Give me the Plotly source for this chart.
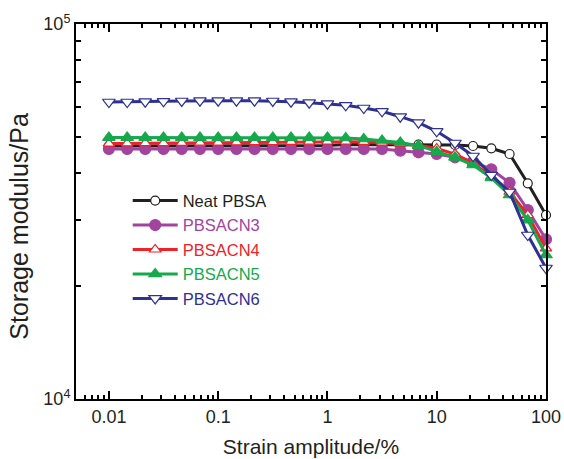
import numpy as np
import plotly.graph_objects as go

# strain amplitude (%), 6 points per decade from 0.01 to 100
strain = [0.01, 0.0147, 0.0215, 0.0316, 0.0464, 0.0681,
          0.1, 0.147, 0.215, 0.316, 0.464, 0.681,
          1.0, 1.47, 2.15, 3.16, 4.64, 6.81,
          10.0, 14.7, 21.5, 31.6, 46.4, 68.1, 100.0]

neat = [47280, 47280, 47280, 47280, 47280, 47280,
        47430, 47430, 47430, 47430, 47430, 47430, 47430,
        47720, 47720, 47720, 47720, 47720, 47720,
        47570, 47280, 46620, 45010, 37600, 30950]

cn3 = [46420] * 16 + [45940, 45490, 45010, 44110, 42940, 40980, 37730, 31920, 26660]

cn4 = [48000, 48050, 48100, 48150, 48200, 48250, 48300, 48350, 48400, 48450,
       48500, 48550, 48600, 48600, 48500, 48300, 48000, 47500, 46560, 45000,
       42590, 39150, 35700, 30950, 25220]

cn5 = [49800] * 13 + [49660, 49350, 48900, 48300, 47370, 45650, 44110,
                      42070, 38850, 34990, 30010, 24210]

cn6 = [61940, 61940, 62060, 62210, 62330, 62440, 62440, 62440, 62440, 62330,
       62060, 61680, 61310, 60710, 59700, 58500, 56600, 54560, 51740, 48160,
       44460, 39560, 35650, 27370, 22350]

names = ["Neat PBSA", "PBSACN3", "PBSACN4", "PBSACN5", "PBSACN6"]
colors = ["#231f20", "#a2449d", "#ee2229", "#16a94c", "#2e3192"]
symbols = ["circle", "circle", "triangle-up", "triangle-up", "triangle-down"]
fills = ["white", "#a2449d", "white", "#16a94c", "white"]
sizes = [9, 11, 10, 11, 11]
series = [neat, cn3, cn4, cn5, cn6]

x_major = [0.01, 0.1, 1, 10, 100]
x_major_text = ["0.01", "0.1", "1", "10", "100"]
x_minor = [m * d for d in [0.001, 0.01, 0.1, 1, 10] for m in range(2, 10) if m * d > 0.005]
y_major = [1e4, 1e5]
y_major_text = ["10<sup>4</sup>", "10<sup>5</sup>"]
y_minor = [m * 1e4 for m in range(2, 10)]

FONT = "Liberation Sans, Arial, sans-serif"
TXT = "#231f20"

fig = go.Figure()
for name, col, sym, fc, sz, ys in zip(names, colors, symbols, fills, sizes, series):
    fig.add_trace(go.Scatter(
        x=strain, y=ys, mode="lines+markers",
        name=f"<span style='color:{col}'>{name}</span>",
        line=dict(color=col, width=3),
        marker=dict(symbol=sym, size=sz, color=fc, line=dict(color=col, width=1.2)),
        cliponaxis=False,
    ))

axis_common = dict(
    showline=True, linecolor="black", linewidth=2, mirror="ticks",
    ticks="inside", ticklen=8, tickwidth=1.5, tickcolor="black",
    showgrid=False, zeroline=False, automargin=False,
    tickfont=dict(family=FONT, size=18, color=TXT),
)

fig.update_xaxes(
    type="log", range=[np.log10(0.005), 2],
    tickmode="array", tickvals=x_major, ticktext=x_major_text,
    minor=dict(tickmode="array", tickvals=x_minor, ticks="inside", ticklen=4,
               tickwidth=1.5, tickcolor="black", showgrid=False),
    title=dict(text="Strain amplitude/%", standoff=14,
               font=dict(family=FONT, size=21, color=TXT)),
    **axis_common,
)
fig.update_yaxes(
    type="log", range=[4, 5],
    tickmode="array", tickvals=y_major, ticktext=y_major_text,
    minor=dict(tickmode="array", tickvals=y_minor, ticks="inside", ticklen=5,
               tickwidth=1.5, tickcolor="black", showgrid=False),
    **axis_common,
)

fig.add_annotation(
    text="Storage modulus/Pa", textangle=-90,
    xref="paper", yref="paper", x=-0.123, y=0.46,
    xanchor="center", yanchor="middle", showarrow=False,
    font=dict(family=FONT, size=25, color=TXT),
)

fig.update_layout(
    width=564, height=459,
    margin=dict(l=76, r=18, t=24, b=60),
    paper_bgcolor="white", plot_bgcolor="white",
    showlegend=True,
    legend=dict(x=0.11, y=0.575, xanchor="left", yanchor="top",
                bgcolor="rgba(0,0,0,0)", tracegroupgap=0, itemwidth=45,
                font=dict(family=FONT, size=16.5)),
)

fig.write_html("out.html", config={"displayModeBar": False},
               post_script="document.body.style.margin='0';document.body.style.overflow='hidden';")
